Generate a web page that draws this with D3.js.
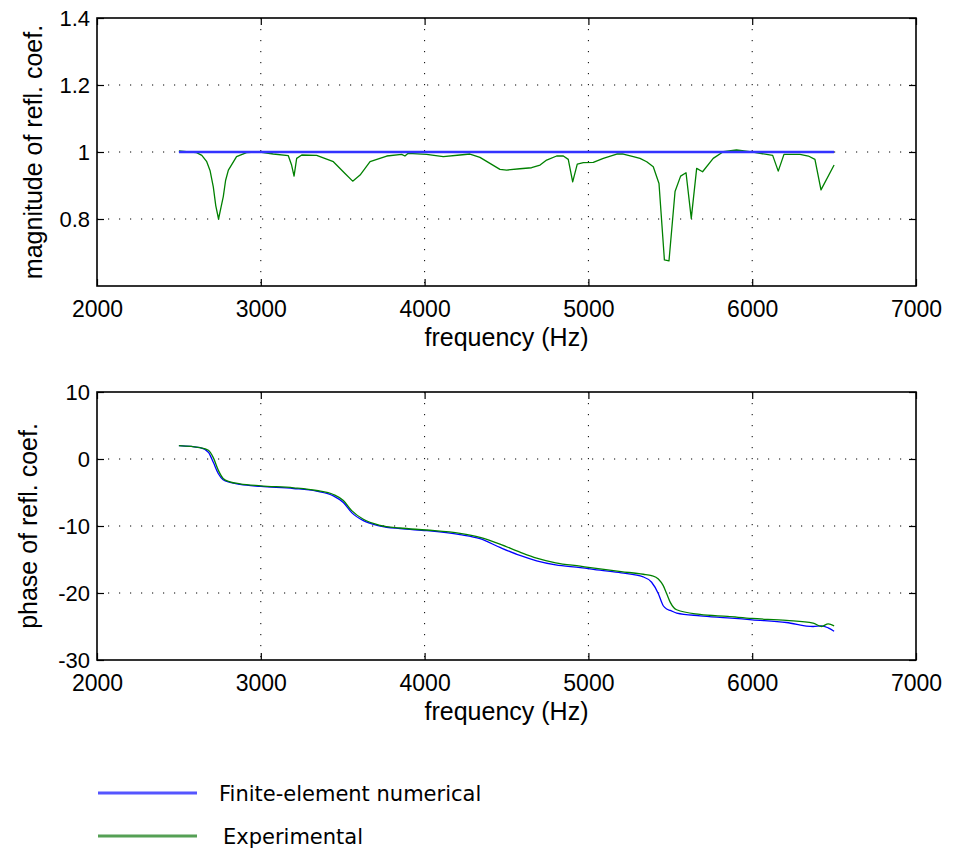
<!DOCTYPE html>
<html>
<head>
<meta charset="utf-8">
<script src="https://cdn.jsdelivr.net/npm/d3@7"></script>
<style>
  body { margin: 0; background: #fff; }
  svg text { font-family: "Liberation Sans", Arial, sans-serif; fill: #000; }
  .legend text { font-family: "DejaVu Sans", sans-serif; }
  .grid line { stroke: #000; stroke-width: 1; stroke-dasharray: 1.2, 9.8; }
  .axis path { display: none; }
  .axis line { stroke: #000; stroke-width: 1.2; }
</style>
</head>
<body>
<div id="chart"></div>
<script>
// ---- data ----
var freqTicks = [2000, 3000, 4000, 5000, 6000, 7000];
var magTicks = [0.8, 1, 1.2, 1.4];
var phaseTicks = [-30, -20, -10, 0, 10];

// magnitude, finite element (flat)
var magFreqNum = [2500, 3000, 4000, 5000, 6000, 6500];
var magNum = [1, 1, 1, 1, 1, 1];

// magnitude, experiment
var magFreqExp = [2500, 2608, 2640, 2670, 2690, 2710, 2725, 2742, 2757, 2771, 2785, 2802, 2852, 2913, 2995,
  3076, 3168, 3188, 3203, 3219, 3250, 3341, 3443, 3514, 3561, 3606, 3667, 3769, 3860, 3880, 3900,
  4012, 4114, 4216, 4277, 4338, 4399, 4460, 4501, 4582, 4653, 4705, 4745, 4806, 4847, 4877, 4904,
  4932, 4969, 5030, 5091, 5173, 5213, 5274, 5315, 5356, 5396, 5431, 5464, 5492, 5529, 5563, 5596,
  5628, 5661, 5697, 5762, 5823, 5904, 5986, 6047, 6125, 6159, 6194, 6292, 6343, 6383, 6420, 6500];
var magExp = [1.003, 0.998, 0.990, 0.971, 0.945, 0.896, 0.84, 0.800, 0.835, 0.867, 0.915, 0.946, 0.986, 0.998, 1.000,
  0.994, 0.989, 0.961, 0.928, 0.981, 0.991, 0.990, 0.971, 0.936, 0.913, 0.931, 0.971, 0.988, 0.993, 0.988, 0.996,
  0.993, 0.986, 0.991, 0.994, 0.984, 0.966, 0.948, 0.946, 0.950, 0.953, 0.961, 0.976, 0.988, 0.988, 0.978, 0.911,
  0.964, 0.968, 0.969, 0.981, 0.994, 0.994, 0.986, 0.981, 0.971, 0.956, 0.906, 0.678, 0.675, 0.882, 0.928, 0.938,
  0.802, 0.951, 0.941, 0.981, 1.001, 1.006, 1.001, 0.996, 0.990, 0.943, 0.993, 0.993, 0.988, 0.978, 0.887, 0.961];

// phase, both series on the same frequencies
var phaseFreq = [2500, 2629, 2680, 2710, 2741, 2770, 2812, 2873, 3000, 3200, 3340, 3443, 3504, 3555, 3626,
  3728, 3850, 4012, 4216, 4338, 4460, 4582, 4684, 4800, 4950, 5071, 5200, 5335, 5386, 5427, 5457,
  5478, 5500, 5539, 5681, 5850, 6000, 6209, 6372, 6423, 6464, 6500];
var phaseNum = [2.0, 1.7, 1.0, -0.5, -2.2, -3.1, -3.5, -3.8, -4.1, -4.4, -4.8, -5.5, -6.5, -8.0, -9.2,
  -10.0, -10.4, -10.7, -11.3, -11.9, -13.2, -14.4, -15.2, -15.8, -16.2, -16.6, -17.0, -17.6, -18.4, -20.1, -21.9,
  -22.4, -22.6, -23.0, -23.4, -23.7, -24.0, -24.4, -25.0, -24.9, -25.2, -25.7];
var phaseExp = [2.0, 1.7, 1.3, 0.2, -1.7, -2.9, -3.4, -3.7, -4.0, -4.3, -4.7, -5.3, -6.2, -7.7, -9.0,
  -9.9, -10.3, -10.6, -11.1, -11.7, -12.7, -13.9, -14.8, -15.5, -16.0, -16.4, -16.8, -17.2, -17.4, -17.9, -18.9,
  -20.1, -21.4, -22.5, -23.2, -23.5, -23.8, -24.1, -24.5, -25.0, -24.6, -24.9];

var legendNames = ["Finite-element numerical", "Experimental"];
var lineColor = { num: "#0000ff", exp: "#008000" };
var legendColor = ["#5555ff", "#55a055"];

// ---- stage ----
var W = 953, H = 850;
var svg = d3.select("#chart").append("svg").attr("width", W).attr("height", H);

var x = d3.scaleLinear().domain([2000, 7000]).range([97, 916]);

function zip(xs, ys) { return xs.map(function(f, i) { return [f, ys[i]]; }); }
// plain hyphen minus, like the original
var plain = function(d) { return String(d); };

// draws one panel: frame, dotted grid, inward ticks, labels, lines
function panel(y, yTicks, gridVals, ylabel, labelX, series, curve) {
  var y0 = y.range()[0], y1 = y.range()[1];
  var g = svg.append("g");

  // dotted grid
  var grid = g.append("g").attr("class", "grid");
  grid.selectAll(".v").data([3000, 4000, 5000, 6000]).enter().append("line")
    .attr("x1", function(d) { return x(d); }).attr("x2", function(d) { return x(d); })
    .attr("y1", y1).attr("y2", y0);
  grid.selectAll(".h").data(gridVals).enter().append("line")
    .attr("x1", x.range()[0]).attr("x2", x.range()[1])
    .attr("y1", function(d) { return y(d); }).attr("y2", function(d) { return y(d); });

  // data lines
  var line = d3.line().x(function(d) { return x(d[0]); }).y(function(d) { return y(d[1]); }).curve(curve);
  series.forEach(function(s) {
    g.append("path").datum(s.pts)
      .attr("fill", "none").attr("stroke", s.color).attr("stroke-width", s.w)
      .attr("stroke-linejoin", "round")
      .attr("d", line);
  });

  // ticks on all four sides, pointing in
  g.append("g").attr("class", "axis").attr("transform", "translate(0," + y0 + ")")
    .call(d3.axisBottom(x).tickValues(freqTicks).tickSize(-7).tickPadding(14.5).tickFormat(plain))
    .selectAll("text").style("font-size", "23px");
  g.append("g").attr("class", "axis").attr("transform", "translate(0," + y1 + ")")
    .call(d3.axisTop(x).tickValues(freqTicks).tickSize(-7).tickFormat(""));
  g.append("g").attr("class", "axis").attr("transform", "translate(" + x.range()[0] + ",0)")
    .call(d3.axisLeft(y).tickValues(yTicks).tickSize(-7).tickPadding(7).tickFormat(plain))
    .selectAll("text").style("font-size", "22px");
  g.append("g").attr("class", "axis").attr("transform", "translate(" + x.range()[1] + ",0)")
    .call(d3.axisRight(y).tickValues(yTicks).tickSize(-7).tickFormat(""));

  // frame
  g.append("rect")
    .attr("x", x.range()[0]).attr("y", y1)
    .attr("width", x.range()[1] - x.range()[0]).attr("height", y0 - y1)
    .attr("fill", "none").attr("stroke", "#000").attr("stroke-width", 1.6);

  // axis labels
  g.append("text")
    .attr("x", (x.range()[0] + x.range()[1]) / 2).attr("y", y0 + 60)
    .attr("text-anchor", "middle").style("font-size", "25px")
    .text("frequency (Hz)");
  g.append("text")
    .attr("transform", "translate(" + labelX + "," + (y0 + y1) / 2 + ") rotate(-90)")
    .attr("text-anchor", "middle").style("font-size", "25px")
    .text(ylabel);
}

var yMag = d3.scaleLinear().domain([0.6, 1.4]).range([286, 18]);
panel(yMag, magTicks, [0.8, 1, 1.2], "magnitude of refl. coef.", 42, [
  { pts: zip(magFreqExp, magExp), color: lineColor.exp, w: 1.3 },
  { pts: zip(magFreqNum, magNum), color: "#3333ff", w: 2.4 }
], d3.curveLinear);

var yPh = d3.scaleLinear().domain([-30, 10]).range([660, 392]);
panel(yPh, phaseTicks, [-20, -10, 0], "phase of refl. coef.", 36.5, [
  { pts: zip(phaseFreq, phaseNum), color: lineColor.num, w: 1.3 },
  { pts: zip(phaseFreq, phaseExp), color: lineColor.exp, w: 1.3 }
], d3.curveMonotoneX);

// legend
var legend = svg.append("g").attr("class", "legend");
var ly = d3.scalePoint().domain(legendNames).range([793, 836]);
legend.selectAll("line").data(legendNames).enter().append("line")
  .attr("x1", 98).attr("x2", 197)
  .attr("y1", function(d) { return ly(d); }).attr("y2", function(d) { return ly(d); })
  .attr("stroke", function(d, i) { return legendColor[i]; }).attr("stroke-width", 3);
legend.selectAll("text").data(legendNames).enter().append("text")
  .attr("x", function(d, i) { return i === 0 ? 219 : 223; })
  .attr("y", function(d) { return ly(d) + 8; })
  .style("font-size", "21px")
  .text(function(d) { return d; });
</script>
</body>
</html>
